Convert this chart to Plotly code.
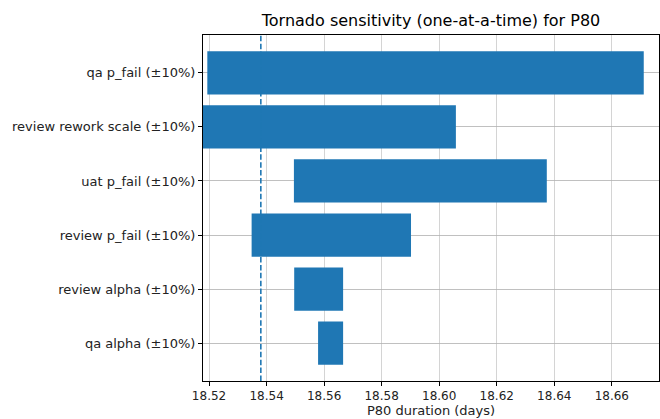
import plotly.graph_objects as go

categories = ["qa alpha (±10%)", "review alpha (±10%)", "review p_fail (±10%)",
              "uat p_fail (±10%)", "review rework scale (±10%)", "qa p_fail (±10%)"]
low_values = [18.5579, 18.5496, 18.5348, 18.5495, 18.5170, 18.5194]
high_values = [18.5666, 18.5666, 18.5902, 18.6374, 18.6058, 18.6711]
baseline = 18.5380
x_ticks = [18.52, 18.54, 18.56, 18.58, 18.60, 18.62, 18.64, 18.66]

widths = [h - l for h, l in zip(high_values, low_values)]

fig = go.Figure()
fig.add_trace(go.Bar(
    y=list(range(len(categories))), x=widths, base=low_values, orientation="h",
    width=0.8, marker=dict(color="#1f77b4", line=dict(width=0)),
    showlegend=False,
))
fig.add_shape(type="line", xref="x", yref="paper", x0=baseline, x1=baseline, y0=0, y1=1,
              line=dict(color="#1f77b4", width=1.6, dash="5.5px,2.4px"))

font = "DejaVu Sans, sans-serif"
fig.update_layout(
    width=660, height=419,
    margin=dict(l=203, r=1, t=35, b=38),
    plot_bgcolor="white", paper_bgcolor="white",
    bargap=0.2,
    title=dict(text="Tornado sensitivity (one-at-a-time) for P80", x=(203 + 659) / 2 / 660,
               xanchor="center", y=1 - 20.5 / 419, yanchor="middle",
               font=dict(family=font, size=16, color="black")),
    font=dict(family=font, size=13, color="#222"),
)
fig.update_xaxes(
    range=[18.5179, 18.6764], tickvals=x_ticks, ticktext=[f"{v:.2f}" for v in x_ticks],
    tickfont=dict(family=font, size=12, color="#222"),
    showgrid=True, gridcolor="rgba(176,176,176,0.55)", gridwidth=1,
    showline=True, linecolor="black", linewidth=1, mirror=True,
    ticks="outside", ticklen=4, tickcolor="black", zeroline=False,
    layer="above traces", automargin=False,
    title=dict(text="P80 duration (days)", font=dict(family=font, size=13, color="#222"), standoff=2),
)
fig.update_yaxes(
    range=[-0.7, 5.7], tickvals=list(range(len(categories))), ticktext=categories,
    tickfont=dict(family=font, size=13, color="#222"),
    showgrid=True, gridcolor="rgba(176,176,176,0.8)", gridwidth=1,
    showline=True, linecolor="black", linewidth=1, mirror=True,
    ticks="outside", ticklen=4, tickcolor="black", zeroline=False,
    layer="above traces", automargin=False,
)
fig.write_html("out.html", config={"displayModeBar": False},
               post_script="document.body.style.margin='0';document.body.style.overflow='hidden';")
